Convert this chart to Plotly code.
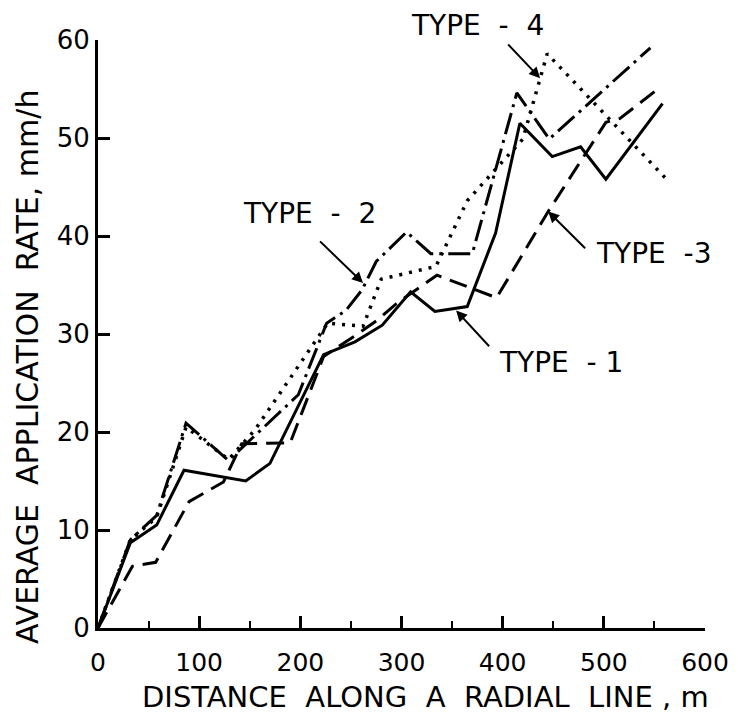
import plotly.graph_objects as go

# ---- data ----
type1_x = [0, 32, 58, 85, 146, 170, 223, 254, 281, 309, 333, 365, 393, 417, 449, 477, 502, 558]
type1_y = [0, 8.7, 10.5, 16.1, 15.0, 16.8, 27.9, 29.2, 30.9, 34.3, 32.3, 32.8, 40.3, 51.5, 48.1, 49.1, 45.8, 53.5]

type2_x = [0, 32, 58, 87, 129, 198, 226, 245, 261, 275, 305, 329, 370, 414, 446, 546]
type2_y = [0, 9.0, 11.5, 20.9, 17.1, 23.8, 31.1, 32.4, 34.5, 37.4, 40.4, 38.2, 38.2, 54.6, 49.9, 59.2]

type3_x = [0, 34, 57, 90, 124, 142, 190, 223, 258, 276, 295, 335, 394, 445, 502, 516, 556]
type3_y = [0, 6.3, 6.7, 12.9, 14.9, 18.8, 18.9, 27.7, 30.1, 31.4, 33.1, 36.0, 33.7, 42.5, 51.6, 52.0, 55.2]

type4_x = [0, 32, 58, 87, 129, 155, 227, 262, 280, 334, 365, 420, 444, 561]
type4_y = [0, 9.0, 11.3, 20.5, 17.2, 20.2, 31.1, 30.8, 35.6, 36.9, 43.6, 49.9, 58.6, 45.9]

x_ticks = [0, 100, 200, 300, 400, 500, 600]
y_ticks = [0, 10, 20, 30, 40, 50, 60]

labels = ["TYPE  - 1", "TYPE  -  2", "TYPE  -3", "TYPE  -  4"]
x_title = "DISTANCE  ALONG  A  RADIAL  LINE , m"
y_title = "AVERAGE  APPLICATION  RATE, mm/h"

FONT = "DejaVu Sans"

# page offset (default body margin) and geometry in screenshot pixels
OFF = 8
W, H = 752 - OFF, 717 - OFF
L, T = 98 - OFF, 40 - OFF
R = W - (705 - OFF)
B = H - (628 - OFF)
PW, PH = W - L - R, H - T - B


def px_to_paper(px, py):
    fx, fy = px - OFF, py - OFF
    return (fx - L) / PW, (H - B - fy) / PH


fig = go.Figure()
fig.add_trace(go.Scatter(x=type1_x, y=type1_y, mode="lines",
                         line=dict(color="black", width=3), name=labels[0]))
fig.add_trace(go.Scatter(x=type2_x, y=type2_y, mode="lines",
                         line=dict(color="black", width=3, dash="22px,6px,3px,6px"), name=labels[1]))
fig.add_trace(go.Scatter(x=type3_x, y=type3_y, mode="lines",
                         line=dict(color="black", width=3, dash="18px,9px"), name=labels[2]))
fig.add_trace(go.Scatter(x=type4_x, y=type4_y, mode="lines",
                         line=dict(color="black", width=3.5, dash="3px,7px"), name=labels[3]))

# label text centres (screenshot pixels), arrow tail / head (data units)
label_px = [(561, 362), (309, 213), (654, 254), (477, 25)]
arrow_tail = [(388, 28.6), (218, 39.6), (483, 38.6), (404, 59.7)]
arrow_head = [(354, 32.4), (262, 35.2), (445, 42.5), (437, 56.1)]

for txt, (tx, ty), (ax, ay), (hx, hy) in zip(labels, label_px, arrow_tail, arrow_head):
    px, py = px_to_paper(tx, ty)
    fig.add_annotation(x=px, y=py, xref="paper", yref="paper", text=txt, showarrow=False,
                       xanchor="center", yanchor="middle",
                       font=dict(family=FONT, size=28, color="black"))
    fig.add_annotation(x=hx, y=hy, ax=ax, ay=ay, xref="x", yref="y", axref="x", ayref="y",
                       text="", showarrow=True, arrowhead=2, arrowsize=1.1, arrowwidth=2,
                       arrowcolor="black")

# axis titles as annotations for exact placement
tx, ty = px_to_paper(425, 697)
fig.add_annotation(x=tx, y=ty, xref="paper", yref="paper", text=x_title, showarrow=False,
                   xanchor="center", yanchor="middle", font=dict(family=FONT, size=29, color="black"))
tx, ty = px_to_paper(27, 367)
fig.add_annotation(x=tx, y=ty, xref="paper", yref="paper", text=y_title, showarrow=False,
                   textangle=-90, xanchor="center", yanchor="middle",
                   font=dict(family=FONT, size=30, color="black"))

fig.update_layout(
    width=W, height=H,
    margin=dict(l=L, r=R, t=T, b=B),
    paper_bgcolor="white", plot_bgcolor="white",
    showlegend=False,
    font=dict(family=FONT, color="black"),
    xaxis=dict(range=[0, 600], tickvals=x_ticks, ticktext=[str(v) for v in x_ticks],
               automargin=False,
               showgrid=False, zeroline=False, showline=True, linecolor="black", linewidth=3,
               ticks="inside", ticklen=12, tickwidth=2.5, tickcolor="black",
               minor=dict(ticks="inside", ticklen=7, tickwidth=2, dtick=50, tickcolor="black", showgrid=False),
               tickfont=dict(family=FONT, size=25, color="black"), ticklabelstandoff=10),
    yaxis=dict(range=[0, 60], tickvals=y_ticks, ticktext=[str(v) for v in y_ticks],
               automargin=False,
               showgrid=False, zeroline=False, showline=True, linecolor="black", linewidth=3,
               ticks="inside", ticklen=12, tickwidth=2.5, tickcolor="black",
               tickfont=dict(family=FONT, size=26, color="black"), ticklabelstandoff=0),
)

fig.write_html("out.html")
